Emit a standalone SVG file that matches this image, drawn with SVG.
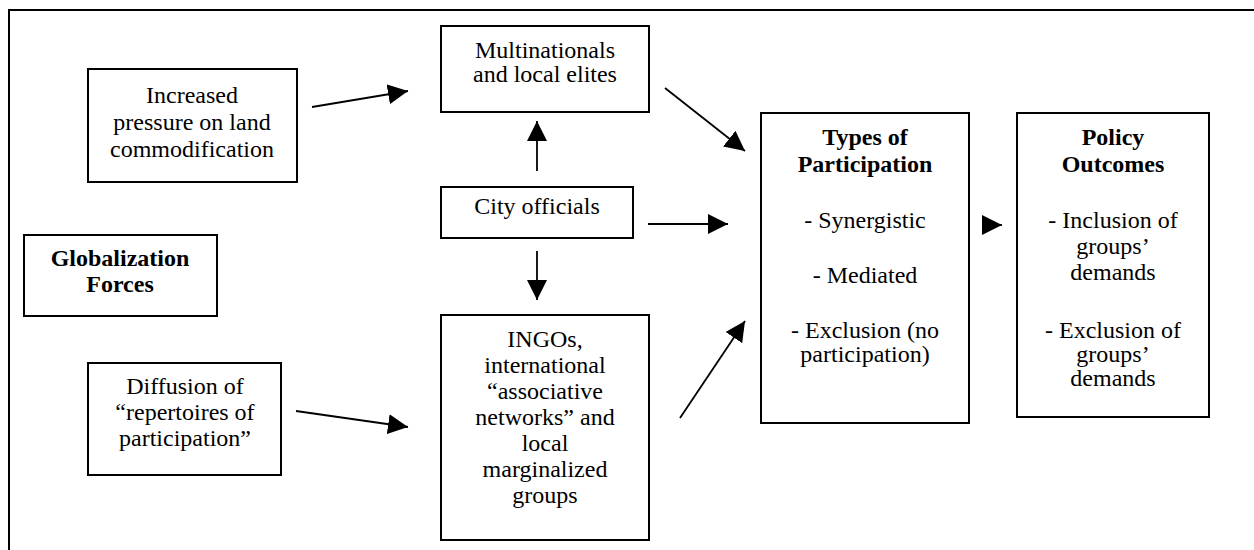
<svg xmlns="http://www.w3.org/2000/svg" width="1254" height="550" viewBox="0 0 1254 550">
<style>
.box{fill:#fff;stroke:#000;stroke-width:2}
.t{font-family:"Liberation Serif","Times New Roman","DejaVu Serif",serif;font-size:24px;text-anchor:middle;fill:#000}
.b{font-weight:bold}
.conn line{stroke:#000;stroke-width:1.8;fill:none}
.frame{fill:none;stroke:#000;stroke-width:2}
</style>
<defs>
<marker id="ah" markerUnits="userSpaceOnUse" markerWidth="20" markerHeight="20" refX="20" refY="10" orient="auto" viewBox="0 0 20 20">
<path d="M0,0 L20,10 L0,20 z" fill="#000"/>
</marker>
</defs>
<rect width="1254" height="550" fill="#fff"/>
<path class="frame" d="M9,552 V10 H1256"/>

<g id="increased">
<rect class="box" x="88" y="69" width="209" height="113"/>
<text class="t" font-family="Liberation Serif, serif"><tspan x="192" y="103">Increased</tspan><tspan x="192" y="130">pressure on land</tspan><tspan x="192" y="157">commodification</tspan></text>
</g>
<g id="globalization">
<rect class="box" x="24" y="235" width="193" height="81"/>
<text class="t b" font-family="Liberation Serif, serif"><tspan x="120" y="266">Globalization</tspan><tspan x="120" y="292">Forces</tspan></text>
</g>
<g id="diffusion">
<rect class="box" x="88" y="363" width="193" height="112"/>
<text class="t" font-family="Liberation Serif, serif"><tspan x="185" y="394">Diffusion of</tspan><tspan x="185" y="420">“repertoires of</tspan><tspan x="185" y="446">participation”</tspan></text>
</g>
<g id="multinationals">
<rect class="box" x="441" y="26" width="208" height="86"/>
<text class="t" font-family="Liberation Serif, serif"><tspan x="545" y="58">Multinationals</tspan><tspan x="545" y="82">and local elites</tspan></text>
</g>
<g id="city">
<rect class="box" x="441" y="187" width="192" height="51"/>
<text class="t" font-family="Liberation Serif, serif" x="537" y="214">City officials</text>
</g>
<g id="ingos">
<rect class="box" x="441" y="315" width="208" height="225"/>
<text class="t" font-family="Liberation Serif, serif"><tspan x="545" y="347">INGOs,</tspan><tspan x="545" y="373">international</tspan><tspan x="545" y="399">“associative</tspan><tspan x="545" y="425">networks” and</tspan><tspan x="545" y="451">local</tspan><tspan x="545" y="477">marginalized</tspan><tspan x="545" y="503">groups</tspan></text>
</g>
<g id="types">
<rect class="box" x="761" y="113" width="208" height="310"/>
<text class="t b" font-family="Liberation Serif, serif"><tspan x="865" y="145">Types of</tspan><tspan x="865" y="172">Participation</tspan></text>
<text class="t" font-family="Liberation Serif, serif"><tspan x="865" y="228">- Synergistic</tspan><tspan x="865" y="283">- Mediated</tspan><tspan x="865" y="338">- Exclusion (no</tspan><tspan x="865" y="362">participation)</tspan></text>
</g>
<g id="policy">
<rect class="box" x="1017" y="113" width="192" height="304"/>
<text class="t b" font-family="Liberation Serif, serif"><tspan x="1113" y="145">Policy</tspan><tspan x="1113" y="172">Outcomes</tspan></text>
<text class="t" font-family="Liberation Serif, serif"><tspan x="1113" y="228">- Inclusion of</tspan><tspan x="1113" y="254">groups’</tspan><tspan x="1113" y="280">demands</tspan><tspan x="1113" y="338">- Exclusion of</tspan><tspan x="1113" y="362">groups’</tspan><tspan x="1113" y="386">demands</tspan></text>
</g>

<g id="connectors" class="conn">
<line x1="312" y1="107" x2="408" y2="91" marker-end="url(#ah)"/>
<line x1="296" y1="411" x2="408" y2="427" marker-end="url(#ah)"/>
<line x1="665" y1="88" x2="745" y2="151" marker-end="url(#ah)"/>
<line x1="537" y1="171" x2="537" y2="121" marker-end="url(#ah)"/>
<line x1="537" y1="251" x2="537" y2="300" marker-end="url(#ah)"/>
<line x1="648" y1="224" x2="728" y2="224" marker-end="url(#ah)"/>
<line x1="680" y1="418" x2="745" y2="321" marker-end="url(#ah)"/>
<line x1="982" y1="225" x2="1002" y2="225" marker-end="url(#ah)"/>
</g>
</svg>
